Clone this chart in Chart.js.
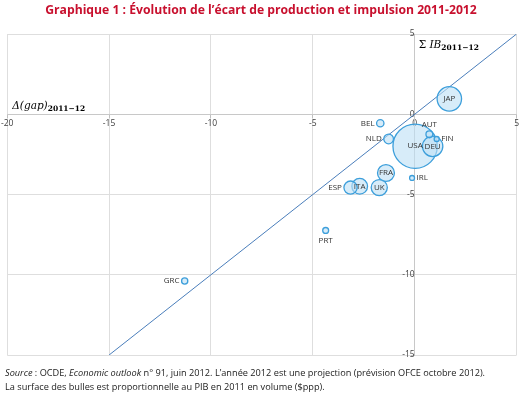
<!DOCTYPE html>
<html>
<head>
<meta charset="utf-8">
<script src="https://cdn.jsdelivr.net/npm/chart.js@4.4.0/dist/chart.umd.min.js"></script>
<style>
  html, body { margin: 0; padding: 0; background: #fff; }
  #wrap { width: 520px; height: 394px; }
</style>
</head>
<body>
<div id="wrap"><canvas id="gapChart" width="520" height="394"></canvas></div>
<script>
// countries, change in output gap 2011-12 (x), cumulated fiscal impulse 2011-12 (y), GDP 2011 ($ppp, trillions)
var countries = ["USA", "JAP", "DEU", "FRA", "UK", "ITA", "ESP", "NLD", "BEL", "AUT", "FIN", "IRL", "PRT", "GRC"];
var gapChange = [0.02, 1.7, 0.88, -1.41, -1.74, -2.7, -3.15, -1.28, -1.69, 0.72, 1.08, -0.13, -4.37, -11.29];
var impulse   = [-1.99, 0.96, -2.0, -3.66, -4.57, -4.49, -4.57, -1.54, -0.56, -1.25, -1.54, -3.97, -7.24, -10.39];
var gdp2011   = [15.1, 4.6, 3.2, 2.2, 2.0, 1.9, 1.35, 0.72, 0.42, 0.36, 0.2, 0.19, 0.27, 0.3];
var labelSide = ["center", "center", "center", "center", "center", "center", "left", "left", "left", "top", "right", "right", "bottom", "left"];

var xTicks = [-20, -15, -10, -5, 0, 5];
var yTicks = [5, 0, -5, -10, -15];
var diagonal = [{x: -15, y: -15}, {x: 5, y: 5}];

var bubbles = countries.map(function (c, i) {
  return { x: gapChange[i], y: impulse[i], r: 5.7 * Math.sqrt(gdp2011[i]) };
});

var gridColor = '#dedede';
var tickFont = { family: 'Open Sans', size: 8.5 };

function fitFont(ctx, style, family, text, target, start) {
  var size = start;
  ctx.font = style + ' ' + size + 'px "' + family + '"';
  while (ctx.measureText(text).width > target && size > 5) {
    size -= 0.1;
    ctx.font = style + ' ' + size.toFixed(1) + 'px "' + family + '"';
  }
  return size;
}

function drawSegments(ctx, segs, x, y, size, family) {
  segs.forEach(function (s) {
    ctx.font = s[0] + ' ' + size.toFixed(1) + 'px "' + family + '"';
    ctx.fillText(s[1], x, y);
    x += ctx.measureText(s[1]).width;
  });
}

var textPlugin = {
  id: 'texts',
  afterDatasetsDraw: function (chart) {
    var ctx = chart.ctx;
    ctx.save();

    // bubble labels
    var meta = chart.getDatasetMeta(0);
    ctx.fillStyle = '#333';
    ctx.font = '8px "Open Sans"';
    ctx.textBaseline = 'middle';
    meta.data.forEach(function (pt, i) {
      var r = pt.options.radius;
      var side = labelSide[i];
      var lx = pt.x, ly = pt.y;
      if (side === 'center') { ctx.textAlign = 'center'; }
      else if (side === 'left') { ctx.textAlign = 'right'; lx = pt.x - r - 2; }
      else if (side === 'right') { ctx.textAlign = 'left'; lx = pt.x + r + 2; }
      else if (side === 'top') { ctx.textAlign = 'center'; ly = pt.y - r - 6; }
      else if (side === 'bottom') { ctx.textAlign = 'center'; ly = pt.y + r + 7; }
      ctx.fillText(countries[i], lx, ly);
    });

    // axis titles
    var xs = chart.scales.x, ys = chart.scales.y;
    ctx.textAlign = 'left';
    ctx.textBaseline = 'alphabetic';
    ctx.fillStyle = '#000';
    var ax = xs.left + 5, ay = ys.getPixelForValue(0) - 5;
    ctx.font = 'italic 10.5px "DejaVu Serif"';
    ctx.fillText('\u0394(gap)', ax, ay);
    ax += ctx.measureText('\u0394(gap)').width;
    ctx.font = 'bold 7.5px "DejaVu Serif"';
    ctx.fillText('2011\u221212', ax, ay + 2);

    var bx = xs.getPixelForValue(0) + 4, by = ys.top + 14;
    ctx.font = '10.5px "DejaVu Serif"';
    ctx.fillText('\u03a3 ', bx, by);
    bx += ctx.measureText('\u03a3 ').width;
    ctx.font = 'italic 10.5px "DejaVu Serif"';
    ctx.fillText('IB', bx, by);
    bx += ctx.measureText('IB').width;
    ctx.font = 'bold 7.5px "DejaVu Serif"';
    ctx.fillText('2011\u221212', bx, by + 2);

    // title
    var title = 'Graphique 1 : \u00c9volution de l\u2019\u00e9cart de production et impulsion 2011-2012';
    fitFont(ctx, 'bold', 'Open Sans', title, 433, 14);
    ctx.fillStyle = '#c8102e';
    ctx.textAlign = 'center';
    ctx.textBaseline = 'middle';
    ctx.fillText(title, 261, 11);

    // footnote
    ctx.textAlign = 'left';
    ctx.textBaseline = 'middle';
    ctx.fillStyle = '#222';
    var line1 = [['italic', 'Source'], ['normal', ' : OCDE, '], ['italic', 'Economic outlook'],
      ['normal', ' n\u00b0 91, juin 2012. L\u2019ann\u00e9e 2012 est une projection (pr\u00e9vision OFCE octobre 2012).']];
    var full = line1.map(function (s) { return s[1]; }).join('');
    var fs = fitFont(ctx, 'normal', 'Open Sans', full, 490, 10);
    drawSegments(ctx, line1, 5, 373, fs, 'Open Sans');
    drawSegments(ctx, [['normal', 'La surface des bulles est proportionnelle au PIB en 2011 en volume ($ppp).']], 5, 387, fs, 'Open Sans');

    ctx.restore();
  }
};

var ctx = document.getElementById('gapChart');

var gapChart = new Chart(ctx, {
  type: 'bubble',
  data: {
    datasets: [
      {
        label: 'Pays',
        data: bubbles,
        backgroundColor: 'rgba(190, 225, 245, 0.62)',
        borderColor: '#3d9fdb',
        borderWidth: 1.3,
        order: 0
      },
      {
        type: 'line',
        label: 'diagonale',
        data: diagonal,
        borderColor: '#4a7ebb',
        borderWidth: 1,
        pointRadius: 0,
        fill: false,
        order: 1
      }
    ]
  },
  options: {
    responsive: false,
    animation: false,
    events: [],
    layout: { autoPadding: false, padding: { left: 5, right: 3, top: 34, bottom: 39 } },
    plugins: {
      legend: { display: false },
      tooltip: { enabled: false },
      title: { display: false }
    },
    scales: {
      x: {
        type: 'linear',
        min: -20,
        max: 5,
        position: { y: 0 },
        afterBuildTicks: function (axis) { axis.ticks = xTicks.map(function (v) { return { value: v }; }); },
        ticks: { font: tickFont, color: '#404040', padding: 1, maxRotation: 0 },
        grid: { color: gridColor, tickLength: 3, tickColor: '#bfbfbf' },
        border: { color: '#c8c8c8' }
      },
      y: {
        type: 'linear',
        min: -15,
        max: 5,
        position: { x: 0 },
        afterBuildTicks: function (axis) { axis.ticks = yTicks.map(function (v) { return { value: v }; }); },
        ticks: { font: tickFont, color: '#404040', padding: 2 },
        grid: { color: gridColor, tickLength: 3, tickColor: '#bfbfbf' },
        border: { color: '#c8c8c8' }
      }
    }
  },
  plugins: [textPlugin]
});
</script>
</body>
</html>
